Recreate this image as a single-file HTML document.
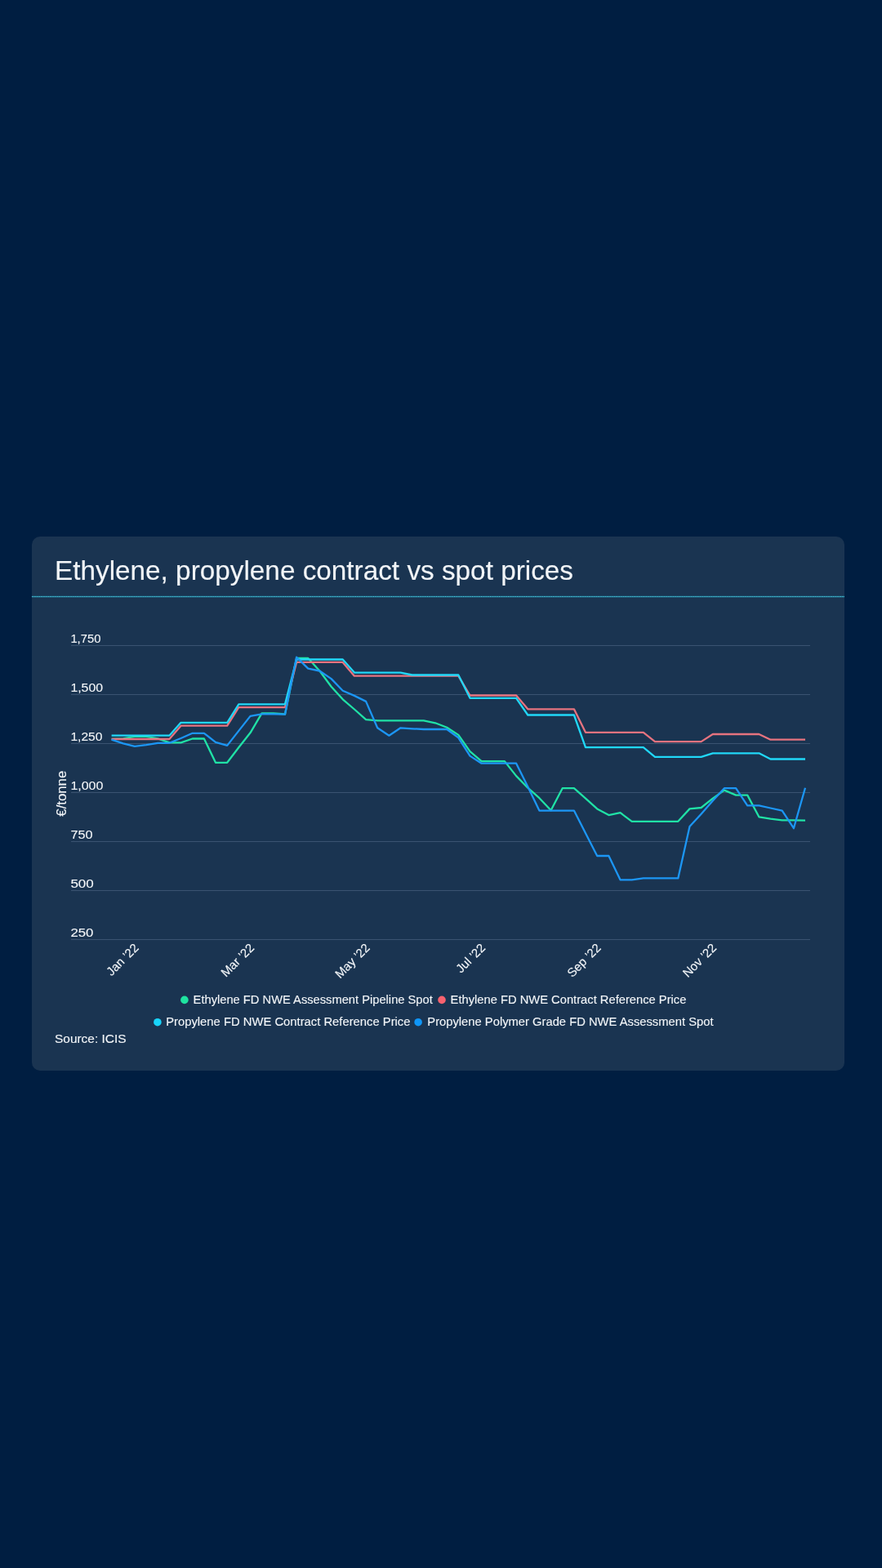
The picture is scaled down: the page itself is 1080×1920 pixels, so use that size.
<!DOCTYPE html>
<html lang="en">
<head>
<meta charset="utf-8">
<title>Ethylene, propylene contract vs spot prices</title>
<style>
html,body{margin:0;padding:0;}
body{width:1080px;height:1920px;background:#001e41;overflow:hidden;position:relative;font-family:"Liberation Sans", sans-serif;}
.card{position:absolute;left:38.8px;top:656.7px;width:995px;height:654.2px;background:#1a3451;border-radius:10px;}
svg{position:absolute;left:0;top:0;}
text{font-family:"Liberation Sans", sans-serif;fill:#f2f5f8;stroke:#f2f5f8;stroke-width:0.12px;}
</style>
</head>
<body>
<div class="card"></div>
<svg width="1080" height="1920" viewBox="0 0 1080 1920">
<text x="67" y="710" font-size="32.3" textLength="635" lengthAdjust="spacingAndGlyphs">Ethylene, propylene contract vs spot prices</text>
<line x1="39" y1="730.7" x2="1034" y2="730.7" stroke="#1c7893" stroke-width="1.8"/>
<line x1="39" y1="730.5" x2="1034" y2="730.5" stroke="#5ccbe4" stroke-width="1.2" stroke-dasharray="1 1.2"/>
<line x1="87" y1="790.5" x2="992" y2="790.5" stroke="#3a5371" stroke-width="1"/>
<text x="86.4" y="787.4" font-size="15.1" textLength="37" lengthAdjust="spacingAndGlyphs">1,750</text>
<line x1="87" y1="850.5" x2="992" y2="850.5" stroke="#3a5371" stroke-width="1"/>
<text x="86.4" y="847.4" font-size="15.1" textLength="39.6" lengthAdjust="spacingAndGlyphs">1,500</text>
<line x1="87" y1="910.5" x2="992" y2="910.5" stroke="#3a5371" stroke-width="1"/>
<text x="86.4" y="907.4" font-size="15.1" textLength="39" lengthAdjust="spacingAndGlyphs">1,250</text>
<line x1="87" y1="970.5" x2="992" y2="970.5" stroke="#3a5371" stroke-width="1"/>
<text x="86.4" y="967.4" font-size="15.1" textLength="40" lengthAdjust="spacingAndGlyphs">1,000</text>
<line x1="87" y1="1030.5" x2="992" y2="1030.5" stroke="#3a5371" stroke-width="1"/>
<text x="86.4" y="1027.4" font-size="15.1" textLength="27" lengthAdjust="spacingAndGlyphs">750</text>
<line x1="87" y1="1090.5" x2="992" y2="1090.5" stroke="#3a5371" stroke-width="1"/>
<text x="86.4" y="1087.4" font-size="15.1" textLength="28.4" lengthAdjust="spacingAndGlyphs">500</text>
<line x1="87" y1="1150.5" x2="992" y2="1150.5" stroke="#3a5371" stroke-width="1"/>
<text x="86.4" y="1147.4" font-size="15.1" textLength="28" lengthAdjust="spacingAndGlyphs">250</text>
<text transform="translate(81.1,971.7) rotate(-90)" text-anchor="middle" font-size="16.6" textLength="56" lengthAdjust="spacingAndGlyphs">€/tonne</text>
<text transform="translate(170.6,1161.6) rotate(-45)" text-anchor="end" font-size="15">Jan ’22</text>
<text transform="translate(312.1,1161.6) rotate(-45)" text-anchor="end" font-size="15">Mar ’22</text>
<text transform="translate(453.6,1161.6) rotate(-45)" text-anchor="end" font-size="15">May ’22</text>
<text transform="translate(595.1,1161.6) rotate(-45)" text-anchor="end" font-size="15">Jul ’22</text>
<text transform="translate(736.6,1161.6) rotate(-45)" text-anchor="end" font-size="15">Sep ’22</text>
<text transform="translate(878.1,1161.6) rotate(-45)" text-anchor="end" font-size="15">Nov ’22</text>
<path d="M136.6,905.0 L150.8,904.3 L164.9,901.9 L179.1,901.9 L193.2,904.3 L207.4,909.3 L221.5,909.3 L235.7,904.5 L249.9,904.5 L264.0,933.8 L278.2,933.8 L292.3,915.3 L306.5,897.3 L320.6,873.3 L334.8,873.3 L349.0,874.5 L363.1,805.9 L377.3,805.9 L391.4,821.5 L405.6,840.7 L419.7,856.3 L433.9,868.5 L448.1,881.2 L462.2,882.4 L476.4,882.4 L490.5,882.4 L504.7,882.4 L518.8,882.4 L533.0,885.3 L547.2,890.8 L561.3,899.9 L575.5,920.1 L589.6,932.1 L603.8,932.1 L617.9,932.1 L632.1,950.1 L646.3,964.7 L660.4,977.2 L674.6,992.3 L688.7,965.2 L702.9,965.2 L717.0,977.7 L731.2,990.4 L745.4,998.1 L759.5,995.2 L773.7,1005.8 L787.8,1005.8 L802.0,1005.8 L816.1,1005.8 L830.3,1005.8 L844.5,990.4 L858.6,989.0 L872.8,977.7 L886.9,967.6 L901.1,973.6 L915.2,973.6 L929.4,1000.3 L943.5,1002.7 L957.7,1004.3 L971.9,1004.3 L986.0,1004.6" fill="none" stroke="#20e2a6" stroke-width="2.3" stroke-linejoin="round" stroke-linecap="butt"/>
<path d="M136.6,905.0 L150.8,905.0 L164.9,905.0 L179.1,905.0 L193.2,905.0 L207.4,905.0 L221.5,888.7 L235.7,888.7 L249.9,888.7 L264.0,888.7 L278.2,888.7 L292.3,866.1 L306.5,866.1 L320.6,866.1 L334.8,866.1 L349.0,866.1 L363.1,810.9 L377.3,810.9 L391.4,810.9 L405.6,810.9 L419.7,810.9 L433.9,827.7 L448.1,827.7 L462.2,827.7 L476.4,827.7 L490.5,827.7 L504.7,827.7 L518.8,827.7 L533.0,827.7 L547.2,827.7 L561.3,827.7 L575.5,851.5 L589.6,851.5 L603.8,851.5 L617.9,851.5 L632.1,851.5 L646.3,868.3 L660.4,868.3 L674.6,868.3 L688.7,868.3 L702.9,868.3 L717.0,896.8 L731.2,896.8 L745.4,896.8 L759.5,896.8 L773.7,896.8 L787.8,896.8 L802.0,908.1 L816.1,908.1 L830.3,908.1 L844.5,908.1 L858.6,908.1 L872.8,899.0 L886.9,899.0 L901.1,899.0 L915.2,899.0 L929.4,899.0 L943.5,905.7 L957.7,905.7 L971.9,905.7 L986.0,905.7" fill="none" stroke="#e6737f" stroke-width="2.3" stroke-linejoin="round" stroke-linecap="butt"/>
<path d="M136.6,900.7 L150.8,900.7 L164.9,900.7 L179.1,900.7 L193.2,900.7 L207.4,900.7 L221.5,884.8 L235.7,884.8 L249.9,884.8 L264.0,884.8 L278.2,884.8 L292.3,862.3 L306.5,862.3 L320.6,862.3 L334.8,862.3 L349.0,862.3 L363.1,807.5 L377.3,807.5 L391.4,807.5 L405.6,807.5 L419.7,807.5 L433.9,823.6 L448.1,823.6 L462.2,823.6 L476.4,823.6 L490.5,823.6 L504.7,826.5 L518.8,826.5 L533.0,826.5 L547.2,826.5 L561.3,826.5 L575.5,854.8 L589.6,854.8 L603.8,854.8 L617.9,854.8 L632.1,854.8 L646.3,875.5 L660.4,875.5 L674.6,875.5 L688.7,875.5 L702.9,875.5 L717.0,915.1 L731.2,915.1 L745.4,915.1 L759.5,915.1 L773.7,915.1 L787.8,915.1 L802.0,926.8 L816.1,926.8 L830.3,926.8 L844.5,926.8 L858.6,926.8 L872.8,922.3 L886.9,922.3 L901.1,922.3 L915.2,922.3 L929.4,922.3 L943.5,929.5 L957.7,929.5 L971.9,929.5 L986.0,929.5" fill="none" stroke="#20d8f8" stroke-width="2.3" stroke-linejoin="round" stroke-linecap="butt"/>
<path d="M136.6,905.7 L150.8,910.3 L164.9,913.9 L179.1,912.2 L193.2,909.8 L207.4,909.8 L221.5,904.0 L235.7,897.8 L249.9,897.8 L264.0,908.8 L278.2,912.9 L292.3,894.9 L306.5,876.9 L320.6,874.3 L334.8,874.3 L349.0,874.7 L363.1,804.7 L377.3,818.6 L391.4,821.5 L405.6,831.1 L419.7,845.7 L433.9,851.9 L448.1,858.9 L462.2,891.3 L476.4,900.7 L490.5,891.3 L504.7,892.3 L518.8,893.0 L533.0,893.0 L547.2,893.0 L561.3,903.3 L575.5,925.6 L589.6,934.7 L603.8,934.7 L617.9,934.7 L632.1,934.7 L646.3,963.3 L660.4,992.6 L674.6,992.6 L688.7,992.6 L702.9,992.6 L717.0,1020.2 L731.2,1048.0 L745.4,1048.0 L759.5,1077.3 L773.7,1077.3 L787.8,1075.4 L802.0,1075.4 L816.1,1075.4 L830.3,1075.4 L844.5,1012.0 L858.6,996.7 L872.8,980.6 L886.9,965.2 L901.1,965.2 L915.2,986.3 L929.4,986.3 L943.5,989.5 L957.7,992.6 L971.9,1014.2 L986.0,964.7" fill="none" stroke="#1c96f5" stroke-width="2.3" stroke-linejoin="round" stroke-linecap="butt"/>
<circle cx="225.9" cy="1224.4" r="4.8" fill="#1fe3a0"/>
<text x="236.6" y="1228.9" font-size="15.3" textLength="293.2" lengthAdjust="spacingAndGlyphs">Ethylene FD NWE Assessment Pipeline Spot</text>
<circle cx="541" cy="1224.4" r="4.8" fill="#f8626f"/>
<text x="551.6" y="1228.9" font-size="15.3" textLength="288.8" lengthAdjust="spacingAndGlyphs">Ethylene FD NWE Contract Reference Price</text>
<circle cx="192.9" cy="1251.7" r="4.8" fill="#18d4fa"/>
<text x="203.2" y="1256.0" font-size="15.3" textLength="299.3" lengthAdjust="spacingAndGlyphs">Propylene FD NWE Contract Reference Price</text>
<circle cx="512.1" cy="1251.7" r="4.8" fill="#0f96f8"/>
<text x="523.3" y="1256.0" font-size="15.3" textLength="350.2" lengthAdjust="spacingAndGlyphs">Propylene Polymer Grade FD NWE Assessment Spot</text>
<text x="67" y="1277.1" font-size="15.3" textLength="87.5" lengthAdjust="spacingAndGlyphs">Source: ICIS</text>
</svg>
</body>
</html>
